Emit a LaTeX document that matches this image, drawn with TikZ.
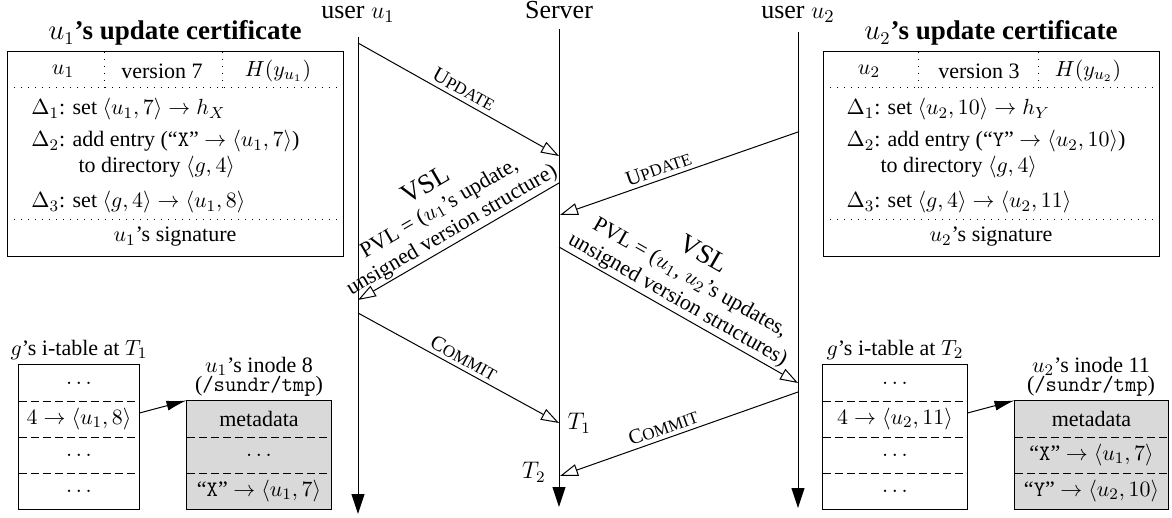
\documentclass[tikz,border=0pt]{standalone}
\usepackage[no-math]{fontspec}
\setmainfont{Liberation Serif}
\usetikzlibrary{arrows.meta}
\begin{document}
\begin{tikzpicture}[x=0.5pt,y=-0.5pt,line width=0.5pt,
  msg/.style={-{Triangle[open,length=9pt,width=6pt]}},
  life/.style={-{Triangle[length=10pt,width=6.5pt]}},
  ptr/.style={-{Latex[length=10pt,width=5pt]}},
  body/.style={font=\fontsize{11}{13}\selectfont,inner sep=0pt},
  toplbl/.style={font=\fontsize{13}{15}\selectfont,inner sep=0pt,anchor=base},
  ttl/.style={font=\fontsize{13.5}{16}\selectfont\bfseries,inner sep=0pt,anchor=base},
  msglbl/.style={font=\fontsize{10.5}{12}\selectfont,inner sep=2pt},
  vsl/.style={font=\fontsize{11}{12.5}\selectfont,align=center,inner sep=1pt},
  tlbl/.style={font=\fontsize{12}{14}\selectfont,inner sep=0pt},
  dotln/.style={dash pattern=on 0.5pt off 3pt},
  dashln/.style={dash pattern=on 4pt off 2pt},
  trow/.style={font=\fontsize{11}{13}\selectfont,minimum height=18pt,inner sep=0pt},
]
\useasboundingbox (0,0) rectangle (1172,518);

% ---------- lifelines ----------
\node[toplbl] (lu1) at (358,19) {user $u_1$};
\node[toplbl] (lsv) at (559,19) {Server};
\node[toplbl] (lu2) at (798,19) {user $u_2$};
\coordinate (u1top) at (358,37);  \coordinate (u1bot) at (358,514);
\coordinate (svtop) at (559,29);  \coordinate (svbot) at (559,507);
\coordinate (u2top) at (798,32);  \coordinate (u2bot) at (798,508);
\draw[life] (u1top) -- (u1bot);
\draw[life] (svtop) -- (svbot);
\draw[life] (u2top) -- (u2bot);

% ---------- messages ----------
\coordinate (m1s) at (358,43);  \coordinate (m1e) at (559,156);
\coordinate (m2s) at (798,132); \coordinate (m2e) at (560,215);
\coordinate (m3s) at (559,183); \coordinate (m3e) at (358,300);
\coordinate (m4s) at (358,313); \coordinate (m4e) at (559,423);
\coordinate (m5s) at (559,247); \coordinate (m5e) at (798,383);
\coordinate (m6s) at (798,392); \coordinate (m6e) at (560,476);

\draw[msg] (m1s) -- node[above,sloped,msglbl] (l1) {U{\fontsize{8.5}{9}\selectfont PDATE}} (m1e);
\draw[msg] (m2s) -- node[pos=0.57,above,sloped,msglbl] (l2) {U{\fontsize{8.5}{9}\selectfont PDATE}} (m2e);
\draw[msg] (m3s) -- node[above,sloped,vsl] (l3) {{\fontsize{13.5}{15}\selectfont VSL}\\PVL = ($u_1$'s update,\\unsigned version structure)} (m3e);
\draw[msg] (m4s) -- node[above,sloped,msglbl] (l4) {C{\fontsize{8.5}{9}\selectfont OMMIT}} (m4e);
\draw[msg] (m5s) -- node[pos=0.47,above,sloped,vsl] (l5) {{\fontsize{13.5}{15}\selectfont VSL}\\PVL = ($u_1$, $u_2$'s updates,\\unsigned version structures)} (m5e);
\draw[msg] (m6s) -- node[pos=0.55,above,sloped,msglbl] (l6) {C{\fontsize{8.5}{9}\selectfont OMMIT}} (m6e);

\node[tlbl,anchor=west] (t1) at (567,423) {$T_1$};
\node[tlbl,anchor=east] (t2) at (546,472) {$T_2$};

% ---------- certificate of u1 ----------
\node[ttl] (c1t) at (175,40) {$u_1$'s update certificate};
\draw (7,52) rectangle (343,257);
\draw[dotln] (7,88) -- (343,88);
\draw[dotln] (7,220) -- (343,220);
\draw[dotln] (104,52) -- (104,88);
\draw[dotln] (222,52) -- (222,88);
\node[body] (c1a) at (63,71) {$u_1$};
\node[body] (c1b) at (162,71) {version 7};
\node[body] (c1c) at (278,71) {$H(y_{u_1})$};
\node[body,anchor=base west] (c1d1) at (31,115) {$\Delta_1$: set $\langle u_1,7\rangle\rightarrow h_X$};
\node[body,anchor=base west] (c1d2) at (31,147) {$\Delta_2$: add entry (``\texttt{X}'' $\rightarrow\langle u_1,7\rangle$)};
\node[body,anchor=base west] (c1d2b) at (78,173) {to directory $\langle g,4\rangle$};
\node[body,anchor=base west] (c1d3) at (31,208) {$\Delta_3$: set $\langle g,4\rangle\rightarrow\langle u_1,8\rangle$};
\node[body,anchor=base] (c1s) at (175,242) {$u_1$'s signature};

% ---------- certificate of u2 ----------
\node[ttl] (c2t) at (991,40) {$u_2$'s update certificate};
\draw (823,52) rectangle (1159,257);
\draw[dotln] (823,88) -- (1159,88);
\draw[dotln] (823,220) -- (1159,220);
\draw[dotln] (918,52) -- (918,88);
\draw[dotln] (1038,52) -- (1038,88);
\node[body] (c2a) at (869,71) {$u_2$};
\node[body] (c2b) at (979,71) {version 3};
\node[body] (c2c) at (1088,71) {$H(y_{u_2})$};
\node[body,anchor=base west] (c2d1) at (846,115) {$\Delta_1$: set $\langle u_2,10\rangle\rightarrow h_Y$};
\node[body,anchor=base west] (c2d2) at (846,147) {$\Delta_2$: add entry (``\texttt{Y}'' $\rightarrow\langle u_2,10\rangle$)};
\node[body,anchor=base west] (c2d2b) at (880,173) {to directory $\langle g,4\rangle$};
\node[body,anchor=base west] (c2d3) at (846,208) {$\Delta_3$: set $\langle g,4\rangle\rightarrow\langle u_2,11\rangle$};
\node[body,anchor=base] (c2s) at (991,242) {$u_2$'s signature};

% ---------- i-table at T1 ----------
\node[body,anchor=base] (it1t) at (79,355) {$g$'s i-table at $T_1$};
\begin{scope}[every node/.style={trow,minimum width=60pt}]
\node (a1) at (79,383) {$\dots$};
\node (a2) at (79,419) {$4\rightarrow\langle u_1,8\rangle$};
\node (a3) at (79,455) {$\dots$};
\node (a4) at (79,491) {$\dots$};
\end{scope}
\draw (a1.north west) rectangle (a4.south east);
\draw[dashln] (a1.south west) -- (a1.south east);
\draw[dashln] (a2.south west) -- (a2.south east);
\draw[dashln] (a3.south west) -- (a3.south east);

% ---------- inode 8 ----------
\node[body,anchor=base] (in1t) at (259,372) {$u_1$'s inode 8};
\node[body,anchor=base] (in1p) at (259,391) {(\texttt{/sundr/tmp})};
\fill[black!15] (187,401) rectangle (331,509);
\begin{scope}[every node/.style={trow,minimum width=72pt}]
\node (b1) at (259,419) {metadata};
\node (b2) at (259,455) {$\dots$};
\node (b3) at (259,491) {``\texttt{X}'' $\rightarrow\langle u_1,7\rangle$};
\end{scope}
\draw (b1.north west) rectangle (b3.south east);
\draw[dashln] (b1.south west) -- (b1.south east);
\draw[dashln] (b2.south west) -- (b2.south east);
\draw[ptr] ([yshift=3pt]a2.east) -- (b1.north west);

% ---------- i-table at T2 ----------
\node[body,anchor=base] (it2t) at (895,355) {$g$'s i-table at $T_2$};
\begin{scope}[every node/.style={trow,minimum width=72pt}]
\node (c1) at (895,383) {$\dots$};
\node (c2) at (895,419) {$4\rightarrow\langle u_2,11\rangle$};
\node (c3) at (895,455) {$\dots$};
\node (c4) at (895,491) {$\dots$};
\end{scope}
\draw (c1.north west) rectangle (c4.south east);
\draw[dashln] (c1.south west) -- (c1.south east);
\draw[dashln] (c2.south west) -- (c2.south east);
\draw[dashln] (c3.south west) -- (c3.south east);

% ---------- inode 11 ----------
\node[body,anchor=base] (in2t) at (1091,372) {$u_2$'s inode 11};
\node[body,anchor=base] (in2p) at (1091,391) {(\texttt{/sundr/tmp})};
\fill[black!15] (1015,401) rectangle (1168,509);
\begin{scope}[every node/.style={trow,minimum width=76.5pt}]
\node (d1) at (1091.5,419) {metadata};
\node (d2) at (1091.5,455) {``\texttt{X}'' $\rightarrow\langle u_1,7\rangle$};
\node (d3) at (1091.5,491) {``\texttt{Y}'' $\rightarrow\langle u_2,10\rangle$};
\end{scope}
\draw (d1.north west) rectangle (d3.south east);
\draw[dashln] (d1.south west) -- (d1.south east);
\draw[dashln] (d2.south west) -- (d2.south east);
\draw[ptr] ([yshift=3pt]c2.east) -- (d1.north west);
\end{tikzpicture}
\end{document}
